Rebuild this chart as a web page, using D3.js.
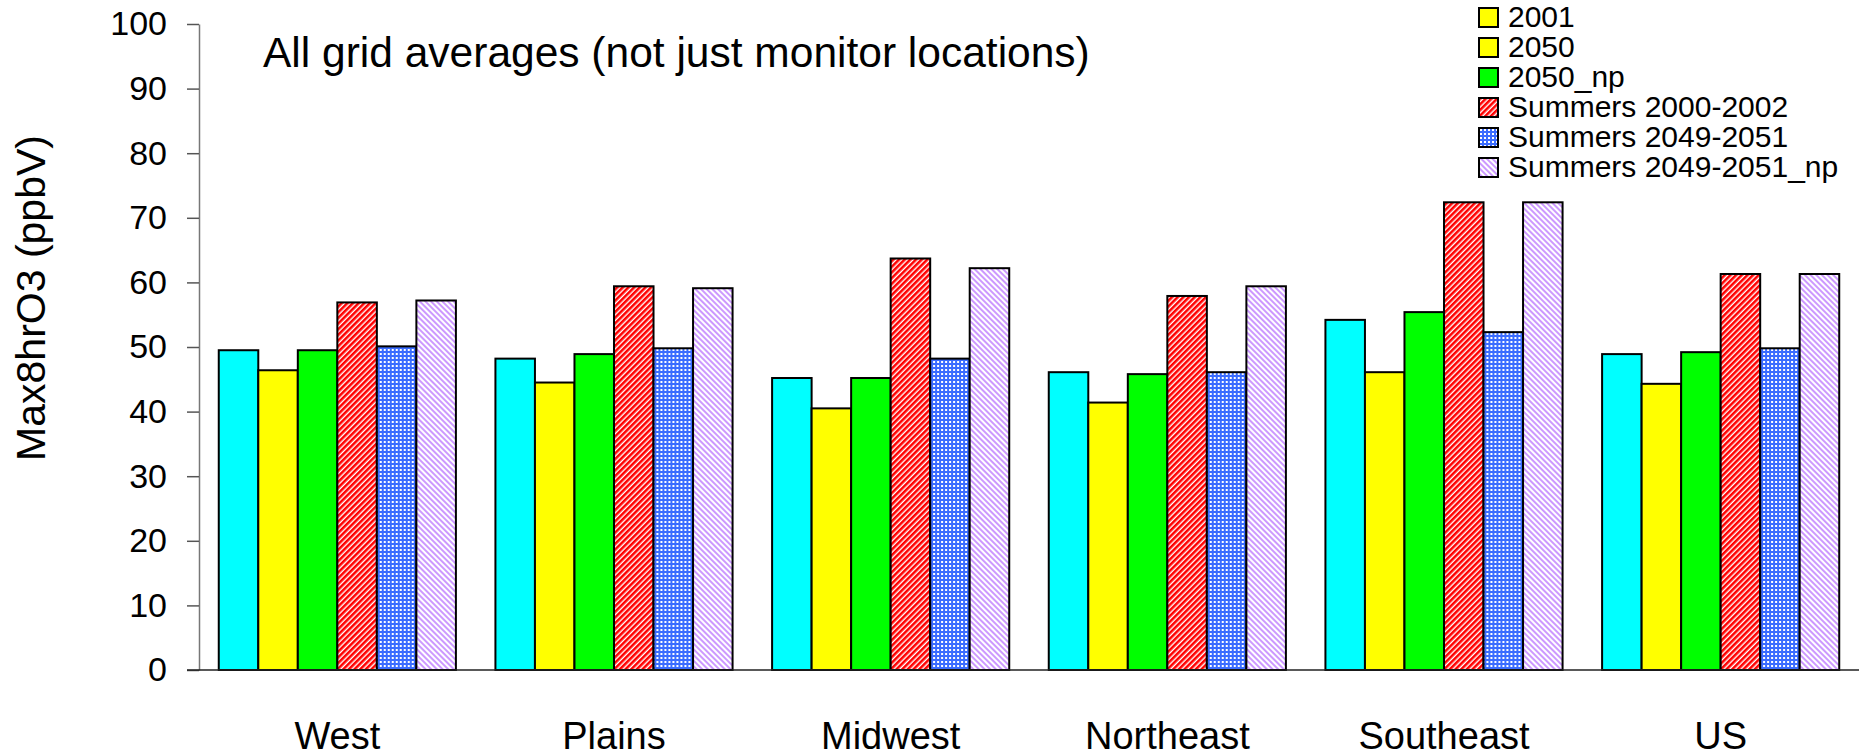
<!DOCTYPE html>
<html>
<head>
<meta charset="utf-8">
<script src="https://cdn.jsdelivr.net/npm/d3@7"></script>
<style>
  body { margin: 0; background: #fff; }
  text { font-family: "Liberation Sans", Arial, sans-serif; fill: #000; }
</style>
</head>
<body>
<div id="chart"></div>
<script>
// Data
const regions = ["West", "Plains", "Midwest", "Northeast", "Southeast", "US"];
const seriesNames = ["2001", "2050", "2050_np", "Summers 2000-2002", "Summers 2049-2051", "Summers 2049-2051_np"];
const v2001 = [49.5, 48.2, 45.2, 46.1, 54.2, 48.9];
const v2050 = [46.4, 44.5, 40.5, 41.4, 46.1, 44.3];
const v2050np = [49.5, 48.9, 45.2, 45.8, 55.4, 49.2];
const summers2000 = [56.9, 59.4, 63.7, 57.9, 72.4, 61.3];
const summers2049 = [50.1, 49.8, 48.2, 46.1, 52.3, 49.8];
const summers2049np = [57.2, 59.1, 62.2, 59.4, 72.4, 61.3];
const yTicks = [0, 10, 20, 30, 40, 50, 60, 70, 80, 90, 100];

const seriesValues = [v2001, v2050, v2050np, summers2000, summers2049, summers2049np];
// bar fills (patterns defined below)
const barFills = ["#00ffff", "#ffff00", "#00ff00", "url(#redStripe)", "url(#blueCheck)", "url(#lilacStripe)"];
// the original legend shows a yellow box for 2001
const legendFills = ["#ffff00", "#ffff00", "#00ff00", "url(#redStripe)", "url(#blueCheck)", "url(#lilacStripe)"];

const W = 1863, H = 756;
const plot = { left: 199, right: 1859, top: 24, bottom: 670 };

const svg = d3.select("#chart").append("svg")
    .attr("width", W)
    .attr("height", H);

// patterns
const defs = svg.append("defs");

const red = defs.append("pattern")
    .attr("id", "redStripe")
    .attr("patternUnits", "userSpaceOnUse")
    .attr("width", 4).attr("height", 4)
    .attr("patternTransform", "rotate(45)");
red.append("rect").attr("width", 4).attr("height", 4).attr("fill", "#fff");
red.append("rect").attr("width", 2.6).attr("height", 4).attr("fill", "#ff0000");

const lilac = defs.append("pattern")
    .attr("id", "lilacStripe")
    .attr("patternUnits", "userSpaceOnUse")
    .attr("width", 4).attr("height", 4)
    .attr("patternTransform", "rotate(-45)");
lilac.append("rect").attr("width", 4).attr("height", 4).attr("fill", "#fff");
lilac.append("rect").attr("width", 2).attr("height", 4).attr("fill", "#cc99ff");

const blue = defs.append("pattern")
    .attr("id", "blueCheck")
    .attr("patternUnits", "userSpaceOnUse")
    .attr("width", 4).attr("height", 4);
blue.append("rect").attr("width", 4).attr("height", 4).attr("fill", "#3a6cff");
blue.append("rect").attr("x", 1).attr("y", 1).attr("width", 2).attr("height", 2).attr("fill", "#fff");

// scales
const x0 = d3.scaleBand()
    .domain(regions)
    .range([plot.left, plot.right])
    .paddingInner(1 / 7)
    .paddingOuter(1 / 14);

const x1 = d3.scaleBand()
    .domain(seriesNames)
    .range([0, x0.bandwidth()]);

const y = d3.scaleLinear()
    .domain([0, 100])
    .range([plot.bottom, plot.top]);

// bars
const groups = svg.selectAll(".group")
    .data(regions)
    .enter().append("g")
    .attr("class", "group")
    .attr("transform", d => `translate(${x0(d)},0)`);

groups.selectAll("rect")
    .data((r, ri) => seriesNames.map((s, si) => ({ series: s, value: seriesValues[si][ri], idx: si })))
    .enter().append("rect")
    .attr("x", d => x1(d.series))
    .attr("y", d => y(d.value))
    .attr("width", x1.bandwidth())
    .attr("height", d => y(0) - y(d.value))
    .attr("fill", d => barFills[d.idx])
    .attr("stroke", "#000")
    .attr("stroke-width", 2);

// y axis
const yAxis = svg.append("g")
    .attr("transform", `translate(${plot.left},0)`)
    .call(d3.axisLeft(y).tickValues(yTicks).tickSize(12).tickSizeOuter(0).tickPadding(20));
yAxis.select(".domain").attr("stroke", "#777").attr("stroke-width", 1.5);
yAxis.selectAll(".tick line").attr("stroke", "#555").attr("stroke-width", 1.5);
yAxis.selectAll(".tick text")
    .style("font-family", "'Liberation Sans', Arial, sans-serif")
    .style("font-size", "34px")
    .attr("fill", "#000");

// baseline
svg.append("line")
    .attr("x1", plot.left - 12).attr("x2", plot.right)
    .attr("y1", y(0)).attr("y2", y(0))
    .attr("stroke", "#222")
    .attr("stroke-width", 1.5);

// x axis labels
const xAxis = svg.append("g")
    .attr("transform", `translate(0,${plot.bottom})`)
    .call(d3.axisBottom(x0).tickSize(0).tickPadding(52));
xAxis.select(".domain").remove();
xAxis.selectAll(".tick text")
    .style("font-family", "'Liberation Sans', Arial, sans-serif")
    .style("font-size", "38px")
    .attr("fill", "#000");

// y axis title
svg.append("text")
    .attr("transform", "translate(45,298) rotate(-90)")
    .attr("text-anchor", "middle")
    .style("font-size", "41px")
    .text("Max8hrO3 (ppbV)");

// note inside the plot
svg.append("text")
    .attr("x", 263)
    .attr("y", 66.7)
    .style("font-size", "42.5px")
    .text("All grid averages (not just monitor locations)");

// legend
const legend = svg.append("g")
    .attr("transform", "translate(1479,8)");

const items = legend.selectAll(".legend-item")
    .data(seriesNames)
    .enter().append("g")
    .attr("class", "legend-item")
    .attr("transform", (d, i) => `translate(0,${i * 30})`);

items.append("rect")
    .attr("width", 19)
    .attr("height", 19)
    .attr("fill", (d, i) => legendFills[i])
    .attr("stroke", "#000")
    .attr("stroke-width", 2);

items.append("text")
    .attr("x", 29)
    .attr("y", 18.7)
    .style("font-size", "30px")
    .text(d => d);
</script>
</body>
</html>
